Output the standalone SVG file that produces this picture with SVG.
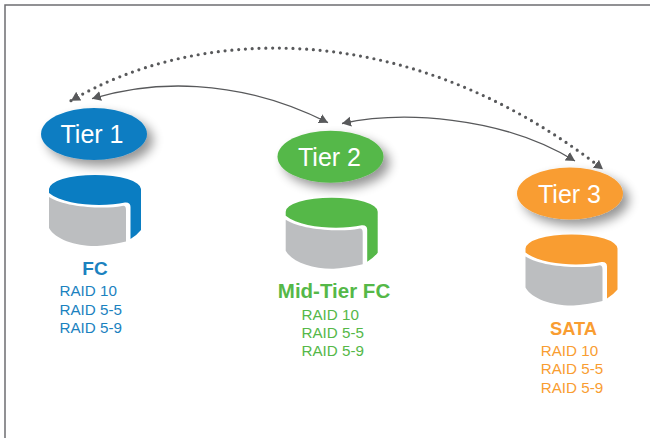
<svg xmlns="http://www.w3.org/2000/svg" xmlns:xlink="http://www.w3.org/1999/xlink" width="650" height="438" viewBox="0 0 650 438">
<style>
text{font-family:"Liberation Sans",Arial,Helvetica,sans-serif}
.tier{font-size:25px;fill:#fff;text-anchor:middle}
.name{font-weight:bold;text-anchor:middle}
.raid{font-size:15.2px}
.blue{fill:#0A7DC2}.green{fill:#55B848}.orange{fill:#F99D31}
.tblue{fill:#1B82BF}.tgreen{fill:#55B848}.torange{fill:#F99D31}
.conn{fill:none;stroke:#58595B;stroke-width:1.3}
.dot{fill:none;stroke:#58595B;stroke-width:3.2;stroke-linecap:round;stroke-dasharray:0 6.8}
.grey{fill:#BCBEC0}
</style>
<defs>
<filter id="sh" x="-30%" y="-50%" width="170%" height="210%">
<feGaussianBlur in="SourceAlpha" stdDeviation="5.5"/>
<feOffset dx="6" dy="6"/>
<feComponentTransfer><feFuncA type="linear" slope="0.42"/></feComponentTransfer>
<feMerge><feMergeNode/><feMergeNode in="SourceGraphic"/></feMerge>
</filter>
<marker id="ah" markerUnits="userSpaceOnUse" markerWidth="10" markerHeight="11" viewBox="0 0 10 11" refX="9" refY="5.5" orient="auto-start-reverse">
<path d="M0,0.5 L9,5.5 L0,10.5 Z" fill="#58595B"/>
</marker>
<path id="cylTop" d="M-46,0 A46,14 0 0 1 46,0 V41 Q42,46 35.5,50 V18 Q35.5,13 30,13.5 C10,18 -30,17 -46,4 Z"/>
<path id="cylSide" class="grey" d="M-46,8 C-30,18.5 10,20.5 27,17 Q31,16 31,21 V52.5 C15,56 5,57 0,57 C-20,57 -40,50 -46,39 Z"/>
</defs>
<rect width="650" height="438" fill="#fff"/>
<path d="M5,438 V5 H650" fill="none" stroke="#6D6E71" stroke-width="1.5"/>

<g id="connectors">
<path class="dot" d="M71,100.7 C190,30 400,11 603,169.3" marker-start="url(#ah)" marker-end="url(#ah)"/>
<path class="conn" d="M92,98.7 C150,81 235,76 328,122.7" marker-start="url(#ah)" marker-end="url(#ah)"/>
<path class="conn" d="M342,123.5 C400,111 500,115 575,161" marker-start="url(#ah)" marker-end="url(#ah)"/>
</g>

<g id="tier1">
<ellipse class="blue" cx="94" cy="134" rx="53" ry="26" filter="url(#sh)"/>
<text class="tier" x="92" y="143">Tier 1</text>
<g transform="translate(95,189)"><use href="#cylTop" class="blue"/><use href="#cylSide"/></g>
<text class="name tblue" x="95" y="275" font-size="19">FC</text>
<text class="raid tblue" x="59.5" y="296">RAID 10</text>
<text class="raid tblue" x="59.5" y="314.5">RAID 5-5</text>
<text class="raid tblue" x="59.5" y="332.5">RAID 5-9</text>
</g>

<g id="tier2">
<ellipse class="green" cx="330.5" cy="156.7" rx="53" ry="26" filter="url(#sh)"/>
<text class="tier" x="329.5" y="166">Tier 2</text>
<g transform="translate(331.7,211.7)"><use href="#cylTop" class="green"/><use href="#cylSide"/></g>
<text class="name tgreen" x="334" y="298" font-size="20.5">Mid-Tier FC</text>
<text class="raid tgreen" x="301.5" y="320">RAID 10</text>
<text class="raid tgreen" x="301.5" y="338">RAID 5-5</text>
<text class="raid tgreen" x="301.5" y="356">RAID 5-9</text>
</g>

<g id="tier3">
<ellipse class="orange" cx="570" cy="193.5" rx="53" ry="26" filter="url(#sh)"/>
<text class="tier" x="569.5" y="202.7">Tier 3</text>
<g transform="translate(571.5,248.5)"><use href="#cylTop" class="orange"/><use href="#cylSide"/></g>
<text class="name torange" x="573.5" y="335" font-size="18.3">SATA</text>
<text class="raid torange" x="540.7" y="356">RAID 10</text>
<text class="raid torange" x="540.7" y="374">RAID 5-5</text>
<text class="raid torange" x="540.7" y="392.5">RAID 5-9</text>
</g>
</svg>
